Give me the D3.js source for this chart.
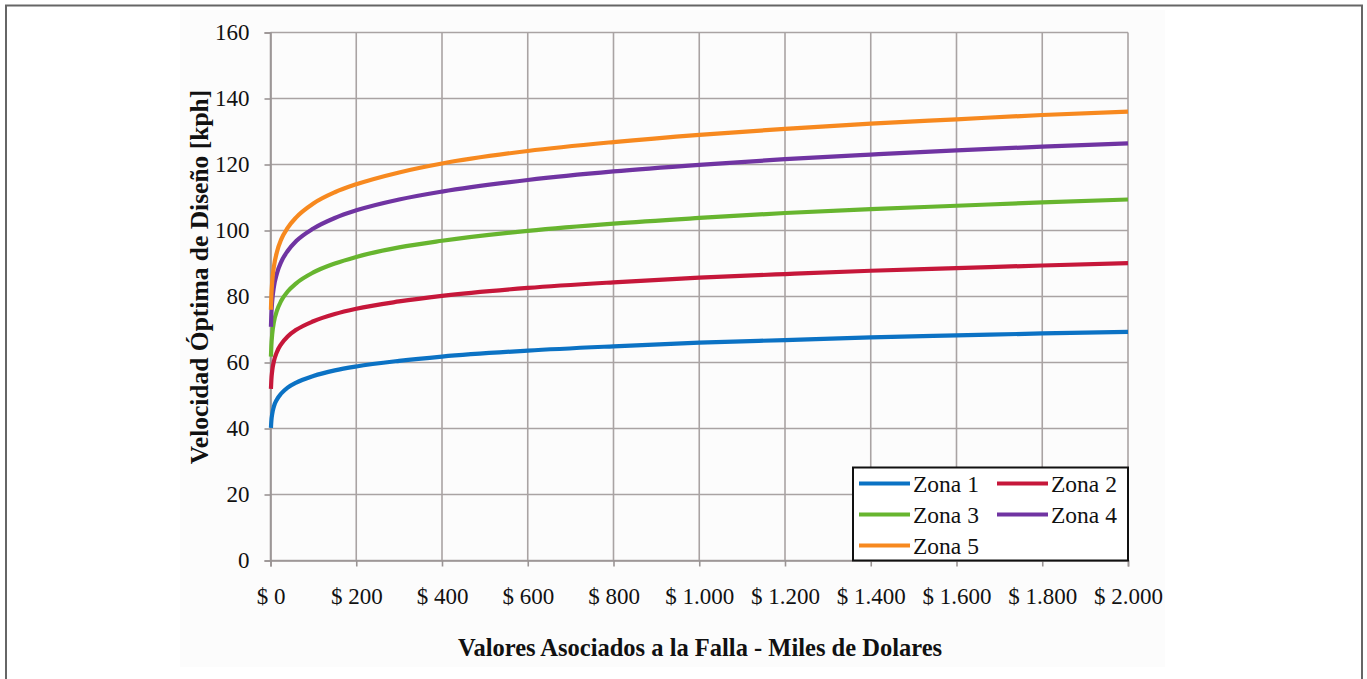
<!DOCTYPE html>
<html>
<head>
<meta charset="utf-8">
<script src="https://cdn.jsdelivr.net/npm/d3@7"></script>
<style>
  html, body { margin: 0; padding: 0; background: #ffffff; }
  svg { display: block; }
  text { font-family: "Liberation Serif", "Times New Roman", serif; fill: #111; }
</style>
</head>
<body>
<svg id="chart" width="1367" height="679"></svg>
<script>
// Cost of failure (thousands of dollars) at which each curve is sampled
const costs = [1, 2, 4, 8, 15, 25, 40, 60, 100, 150, 200, 300, 400, 600, 800, 1000, 1200, 1400, 1600, 1800, 2000];

// Optimum design speed (kph) per zone
const zona1 = [40.2, 42.3, 44.4, 46.7, 48.8, 50.6, 52.4, 53.9, 55.9, 57.6, 58.8, 60.5, 61.8, 63.6, 64.9, 66.0, 66.8, 67.6, 68.2, 68.8, 69.3];
const zona2 = [52.0, 54.7, 57.5, 60.4, 63.2, 65.6, 67.9, 69.9, 72.5, 74.7, 76.3, 78.5, 80.2, 82.6, 84.3, 85.7, 86.8, 87.8, 88.6, 89.4, 90.1];
const zona3 = [61.8, 65.1, 68.6, 72.3, 75.7, 78.7, 81.5, 84.0, 87.3, 90.0, 92.0, 94.9, 96.9, 99.9, 102.1, 103.8, 105.3, 106.5, 107.5, 108.5, 109.4];
const zona4 = [70.8, 74.6, 78.7, 83.0, 87.0, 90.5, 93.8, 96.8, 100.6, 103.8, 106.1, 109.4, 111.8, 115.3, 117.9, 119.9, 121.6, 123.0, 124.3, 125.4, 126.4];
const zona5 = [76.0, 80.1, 84.5, 89.1, 93.5, 97.3, 100.8, 104.0, 108.2, 111.6, 114.0, 117.6, 120.3, 124.1, 126.8, 129.0, 130.8, 132.4, 133.7, 135.0, 136.0];

const seriesNames = ["Zona 1", "Zona 2", "Zona 3", "Zona 4", "Zona 5"];
const seriesColors = ["#0b72c4", "#c6173a", "#67b52f", "#7034a2", "#f7891f"];

const xTicks = [0, 200, 400, 600, 800, 1000, 1200, 1400, 1600, 1800, 2000];
const yTicks = [0, 20, 40, 60, 80, 100, 120, 140, 160];

const xTitle = "Valores Asociados a la Falla - Miles de Dolares";
const yTitle = "Velocidad Óptima de Diseño [kph]";

const series = [zona1, zona2, zona3, zona4, zona5].map((vals, i) => ({
  name: seriesNames[i],
  color: seriesColors[i],
  points: costs.map((c, j) => ({ x: c, y: vals[j] }))
}));

const svg = d3.select("#chart");

// Page frame
svg.append("path")
  .attr("d", "M6,690 L6,5.5 L1362,5.5 L1362,690")
  .attr("fill", "none")
  .attr("stroke", "#666")
  .attr("stroke-width", 2);

// Very light backdrop of the figure area
svg.append("rect")
  .attr("x", 180).attr("y", 10).attr("width", 985).attr("height", 657)
  .attr("fill", "#fcfcfc");

const x = d3.scaleLinear().domain([0, 2000]).range([270.5, 1128]);
const y = d3.scaleLinear().domain([0, 160]).range([560.5, 32.5]);

// Thousands separator is a dot
const fmt = v => "$ " + d3.format(",")(v).replace(/,/g, ".");

const grid = svg.append("g");
grid.selectAll("line.h").data(yTicks).join("line")
  .attr("x1", x(0)).attr("x2", x(2000))
  .attr("y1", d => y(d)).attr("y2", d => y(d))
  .attr("stroke", "#a9a3a3").attr("stroke-width", 1.6);
grid.selectAll("line.v").data(xTicks).join("line")
  .attr("x1", d => x(d)).attr("x2", d => x(d))
  .attr("y1", y(0)).attr("y2", y(160))
  .attr("stroke", "#a9a3a3").attr("stroke-width", 1.6);

// Axes
const yAxis = d3.axisLeft(y).tickValues(yTicks).tickSize(6).tickPadding(15);
const xAxis = d3.axisBottom(x).tickValues(xTicks).tickSize(6).tickPadding(21).tickFormat(fmt);

const gy = svg.append("g").attr("transform", `translate(${x(0)},0)`).call(yAxis);
const gx = svg.append("g").attr("transform", `translate(0,${y(0)})`).call(xAxis);
[gy, gx].forEach(g => {
  g.select(".domain").attr("stroke", "#9a9494").attr("stroke-width", 1.6);
  g.selectAll(".tick line").attr("stroke", "#9a9494").attr("stroke-width", 1.6);
  g.selectAll(".tick text")
    .attr("font-family", "Liberation Serif, serif")
    .attr("font-size", 23)
    .attr("fill", "#0a0a0a");
});

// Curves
const line = d3.line()
  .x(d => x(d.x))
  .y(d => y(d.y))
  .curve(d3.curveMonotoneX);

svg.append("g").selectAll("path").data(series).join("path")
  .attr("d", d => line(d.points))
  .attr("fill", "none")
  .attr("stroke", d => d.color)
  .attr("stroke-width", 4.2)
  .attr("stroke-linejoin", "round");

// Axis titles
svg.append("text")
  .attr("x", 700).attr("y", 656)
  .attr("text-anchor", "middle")
  .attr("font-weight", "bold")
  .attr("font-size", 24.5)
  .text(xTitle);

svg.append("text")
  .attr("transform", "translate(208,277) rotate(-90)")
  .attr("text-anchor", "middle")
  .attr("font-weight", "bold")
  .attr("font-size", 25.5)
  .text(yTitle);

// Legend
const legend = svg.append("g").attr("transform", "translate(853,467.5)");
legend.append("rect")
  .attr("width", 275).attr("height", 93)
  .attr("fill", "#fff")
  .attr("stroke", "#111").attr("stroke-width", 2);

const item = legend.selectAll("g.item").data(series).join("g")
  .attr("transform", (d, i) => `translate(${6 + (i % 2) * 138},${16 + Math.floor(i / 2) * 31})`);
item.append("line")
  .attr("x1", 0).attr("x2", 51)
  .attr("stroke", d => d.color).attr("stroke-width", 4.2);
item.append("text")
  .attr("x", 54).attr("y", 8)
  .attr("font-size", 23.5)
  .text(d => d.name);
</script>
</body>
</html>
